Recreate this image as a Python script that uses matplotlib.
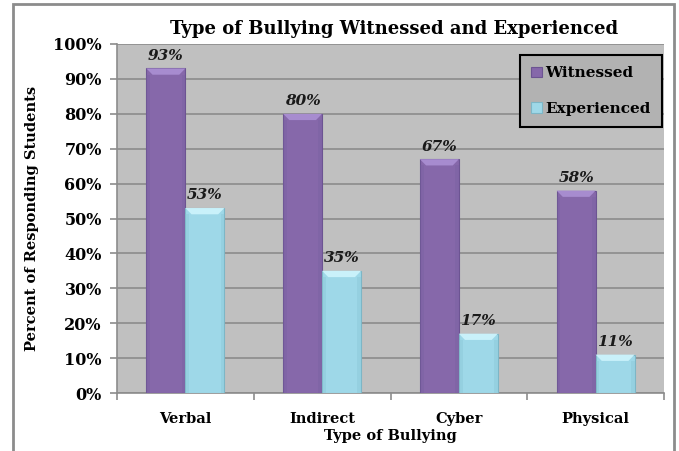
import matplotlib
matplotlib.use("Agg")
import matplotlib.pyplot as plt
import numpy as np
from matplotlib.patches import Rectangle, Polygon

categories = ["Verbal", "Indirect", "Cyber", "Physical"]
witnessed = [93, 80, 67, 58]
experienced = [53, 35, 17, 11]
series_names = ["Witnessed", "Experienced"]
yticks = [0, 10, 20, 30, 40, 50, 60, 70, 80, 90, 100]

FONT = "DejaVu Serif"
plt.rcParams['font.family'] = [FONT]

fig = plt.figure(figsize=(6.79, 4.51), dpi=100)
fig.patch.set_facecolor('white')
ax = fig.add_axes([117/679, 1-393/451, (664-117)/679, (393-44)/451])
ax.set_facecolor('#c0c0c0')

# outer border
fig.patches.append(Rectangle((13/679, -0.05), (674-13)/679, 1.05 - 4/451, transform=fig.transFigure,
                             fill=False, edgecolor='#8c8c8c', linewidth=2, zorder=0))

x = np.arange(len(categories))
w = 0.285
c_w = '#8668aa'
c_e = '#9ed8e8'
b1 = ax.bar(x - w/2, witnessed, w, color=c_w, edgecolor='#6c5492', linewidth=0.8, zorder=3, label=series_names[0])
b2 = ax.bar(x + w/2, experienced, w, color=c_e, edgecolor='#7db6c6', linewidth=0.8, zorder=3, label=series_names[1])

# bevel highlights on bar tops (derived from each bar's geometry)
for rects, light, dark in ((b1, '#a78ccf', '#7660a0'), (b2, '#c9f1fa', '#86c3d3')):
    for r in rects:
        x0, x1 = r.get_x(), r.get_x() + r.get_width()
        top = r.get_height()
        d, h = 0.045, 1.8
        ax.add_patch(Polygon([(x0, top), (x1, top), (x1 - d, top - h), (x0 + d, top - h)],
                             closed=True, facecolor=light, edgecolor='none', zorder=3.5))
        ax.add_patch(Rectangle((x0, 0), d * 0.6, top - h, facecolor=dark, edgecolor='none', alpha=0.35, zorder=3.4))
        ax.add_patch(Rectangle((x1 - d * 0.6, 0), d * 0.6, top - h, facecolor=dark, edgecolor='none', alpha=0.35, zorder=3.4))

for rects, vals in ((b1, witnessed), (b2, experienced)):
    for r, v in zip(rects, vals):
        ax.text(r.get_x() + r.get_width()/2, v + 1.6, f"{v}%", ha='center', va='bottom',
                fontsize=11, fontweight='bold', fontstyle='italic', color='#1a1a1a', zorder=4)

ax.set_xlim(-0.5, len(categories) - 0.5)
ax.set_ylim(0, 100)
ax.set_yticks(yticks)
ax.set_yticklabels([f"{t}%" for t in yticks], fontsize=11.5, fontweight='bold')
ax.yaxis.grid(True, color='#8c8c8c', linewidth=1.2, zorder=0)
ax.set_axisbelow(True)

ax.set_xticks(x)
ax.set_xticklabels(categories, fontsize=10.5, fontweight='bold')
ax.set_xticks(np.arange(-0.5, len(categories)), minor=True)
ax.tick_params(axis='x', which='major', length=0, pad=14)
ax.tick_params(axis='x', which='minor', length=5, color='#8c8c8c', width=1.2)
ax.tick_params(axis='y', length=5, color='#8c8c8c', width=1.2, pad=6)

for s in ['top', 'right']:
    ax.spines[s].set_visible(False)
ax.spines['left'].set_color('#8c8c8c')
ax.spines['left'].set_linewidth(1.2)
ax.spines['bottom'].set_color('#8c8c8c')
ax.spines['bottom'].set_linewidth(1.2)

ax.set_xlabel("Type of Bullying", fontsize=10.5, fontweight='bold', labelpad=2)
ax.set_ylabel("Percent of Responding Students", fontsize=10.5, fontweight='bold', labelpad=10)

fig.text(0.581, 1-29/451, "Type of Bullying Witnessed and Experienced", ha='center', va='center',
         fontsize=13, fontweight='bold')

leg = ax.legend(loc='upper right', bbox_to_anchor=(662/679, 1-55/451), bbox_transform=fig.transFigure,
                prop={'family': FONT, 'weight': 'bold', 'size': 11}, frameon=True, fancybox=False,
                handlelength=0.7, handleheight=0.7, handletextpad=0.2, labelspacing=1.4,
                borderpad=0.75, borderaxespad=0)
leg.get_frame().set_facecolor('#b2b2b2')
leg.get_frame().set_edgecolor('black')
leg.get_frame().set_linewidth(1.5)
leg.get_frame().set_alpha(1)

fig.savefig("out.png", dpi=100, facecolor='white')
